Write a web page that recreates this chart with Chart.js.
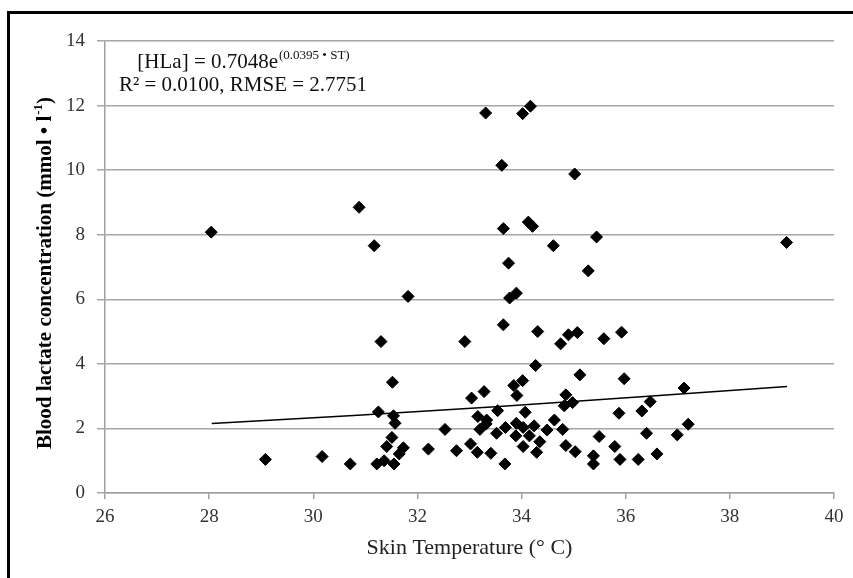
<!DOCTYPE html>
<html>
<head>
<meta charset="utf-8">
<script src="https://cdn.jsdelivr.net/npm/chart.js@4.4.1/dist/chart.umd.min.js"></script>
<style>
  html, body { margin: 0; padding: 0; background: #fff; overflow: hidden; }
  #wrap { position: relative; width: 853px; height: 578px; overflow: hidden; }
  #frame { position: absolute; left: 7px; top: 11px; width: 900px; height: 620px;
           border-left: 3px solid #000; border-top: 3px solid #000; pointer-events: none; }
  canvas { position: absolute; left: 0; top: 0; }
</style>
</head>
<body>
<div id="wrap">
  <canvas id="c" width="853" height="578"></canvas>
  <div id="frame"></div>
</div>
<script>
// Skin temperature (°C) of each observation
const skinTemp = [
  28.04, 30.88, 31.17, 31.82, 33.31, 34.02, 34.17, 33.62, 35.02, 33.65,
  34.13, 34.21, 34.61, 35.44, 39.09, 33.75, 35.28, 33.90, 33.77,
  31.30, 31.52, 31.25, 31.54, 31.57, 31.51, 31.41, 31.73, 31.65, 31.36,
  31.22, 31.55, 30.71, 30.17, 29.08, 32.21, 32.53, 32.75,
  32.91, 33.65, 34.31, 34.75, 34.90, 35.07, 35.58, 35.92, 34.27, 35.12,
  35.97, 37.12, 34.02, 33.85, 33.28, 33.04, 33.91, 34.85, 34.98, 34.82,
  36.47, 36.31, 35.87, 33.54, 34.07, 33.16, 33.33, 33.32, 33.20, 33.52,
  33.69, 33.90, 33.89, 34.03, 34.24, 34.15, 34.35, 34.63, 34.49, 34.79,
  34.03, 34.29, 34.85, 35.03, 35.49, 35.79, 36.40, 36.99, 37.20, 35.38,
  35.38, 35.89, 36.24, 36.60, 33.02, 33.15, 33.41, 33.68
];
// Blood lactate concentration (mmol • l-1) of each observation
const lactate = [
  8.08, 8.85, 7.66, 6.09, 11.77, 11.75, 11.98, 10.15, 9.88, 8.19,
  8.39, 8.26, 7.66, 7.93, 7.76, 7.12, 6.88, 6.19, 6.04,
  4.69, 3.43, 2.51, 2.39, 2.16, 1.72, 1.44, 1.40, 1.21, 1.00,
  0.90, 0.90, 0.90, 1.13, 1.04, 1.36, 1.97, 1.31,
  4.69, 5.21, 5.00, 4.62, 4.90, 4.97, 4.78, 4.98, 3.95, 3.66,
  3.54, 3.25, 3.48, 3.33, 3.14, 2.94, 3.02, 3.04, 2.80, 2.70,
  2.83, 2.54, 2.47, 2.55, 2.50, 2.37, 2.26, 2.14, 1.97, 1.85,
  2.03, 2.16, 1.77, 2.03, 2.08, 1.77, 1.59, 2.26, 1.95, 1.97,
  1.44, 1.26, 1.47, 1.28, 1.75, 1.44, 1.85, 1.80, 2.13, 1.15,
  0.90, 1.04, 1.04, 1.21, 1.52, 1.26, 1.23, 0.90
];
// Fitted trend line
const trendX = [28.05, 33.5, 39.1];
const trendY = [2.15, 2.67, 3.30];

const xTicks = [26, 28, 30, 32, 34, 36, 38, 40];
const yTicks = [0, 2, 4, 6, 8, 10, 12, 14];

const eqMain = "[HLa] = 0.7048e";
const eqSup = "(0.0395 \u2022 ST)";
const eqLine2 = "R\u00B2 = 0.0100, RMSE = 2.7751";
const yTitleMain = "Blood lactate concentration (mmol \u2022 l";
const yTitleSup = "-1";
const yTitleEnd = ")";
const xTitle = "Skin Temperature (\u00B0 C)";

const SERIF = "'Liberation Serif', 'Times New Roman', serif";

const points = skinTemp.map((x, i) => ({ x: x, y: lactate[i] }));
const trend = trendX.map((x, i) => ({ x: x, y: trendY[i] }));

const textPlugin = {
  id: 'texts',
  afterDraw(chart) {
    const ctx = chart.ctx;
    ctx.save();
    ctx.fillStyle = '#111';
    ctx.textBaseline = 'alphabetic';
    // Equation, line 1 (centred)
    const f1 = '21px ' + SERIF, fs = '13px ' + SERIF;
    ctx.font = f1;
    const w1 = ctx.measureText(eqMain).width;
    ctx.font = fs;
    const ws = ctx.measureText(eqSup).width;
    const cx = 243;
    let x0 = cx - (w1 + ws) / 2;
    ctx.font = f1;
    ctx.textAlign = 'left';
    ctx.fillText(eqMain, x0, 68);
    ctx.font = fs;
    ctx.fillText(eqSup, x0 + w1 + 1, 59);
    // Equation, line 2
    ctx.font = f1;
    ctx.textAlign = 'center';
    ctx.fillText(eqLine2, cx, 91);

    // Y axis title (rotated, bold, with superscript)
    const ca = chart.chartArea;
    const fb = 'bold 21px ' + SERIF, fbs = 'bold 13px ' + SERIF;
    ctx.font = fb;
    const a = ctx.measureText(yTitleMain).width;
    const c = ctx.measureText(yTitleEnd).width;
    ctx.font = fbs;
    const b = ctx.measureText(yTitleSup).width;
    const total = a + b + c + 1;
    ctx.translate(51, (ca.top + ca.bottom) / 2 + 6);
    ctx.rotate(-Math.PI / 2);
    ctx.textAlign = 'left';
    let sx = -total / 2;
    ctx.fillStyle = '#000';
    ctx.font = fb;
    ctx.fillText(yTitleMain, sx, 0);
    ctx.font = fbs;
    ctx.fillText(yTitleSup, sx + a + 1, -9);
    ctx.font = fb;
    ctx.fillText(yTitleEnd, sx + a + b + 1, 0);
    ctx.restore();
  }
};

new Chart(document.getElementById('c'), {
  type: 'scatter',
  data: {
    datasets: [
      {
        label: 'Trend',
        data: trend,
        showLine: true,
        borderColor: '#000',
        borderWidth: 1.5,
        pointRadius: 0,
        tension: 0.4,
        order: 2
      },
      {
        label: 'Observations',
        data: points,
        pointStyle: 'rectRot',
        pointRadius: 6,
        backgroundColor: '#000',
        borderColor: '#000',
        borderWidth: 1,
        order: 1
      }
    ]
  },
  options: {
    responsive: false,
    animation: false,
    layout: { padding: { left: 60, top: 41, right: 19, bottom: 0 } },
    plugins: { legend: { display: false }, tooltip: { enabled: false } },
    scales: {
      x: {
        type: 'linear',
        min: 26, max: 40,
        afterFit(s) { s.height = 85; },
        afterBuildTicks(s) { s.ticks = xTicks.map(v => ({ value: v })); },
        ticks: { font: { size: 19, family: SERIF }, color: '#333', padding: 7 },
        grid: { drawOnChartArea: false, drawTicks: true, tickLength: 6, color: '#a0a0a0', lineWidth: 1.5 },
        border: { color: '#a0a0a0', width: 1.5 },
        title: { display: true, text: xTitle, font: { size: 22, family: SERIF }, color: '#222',
                 padding: { top: 0, bottom: 17 } }
      },
      y: {
        type: 'linear',
        min: 0, max: 14,
        afterFit(s) { s.width = 45; },
        afterBuildTicks(s) { s.ticks = yTicks.map(v => ({ value: v })); },
        ticks: { font: { size: 19, family: SERIF }, color: '#333', padding: 12 },
        grid: { drawTicks: true, tickLength: 8, color: '#a6a6a6', lineWidth: 1.5 },
        border: { color: '#a0a0a0', width: 1.5 }
      }
    }
  },
  plugins: [textPlugin]
});
</script>
</body>
</html>
